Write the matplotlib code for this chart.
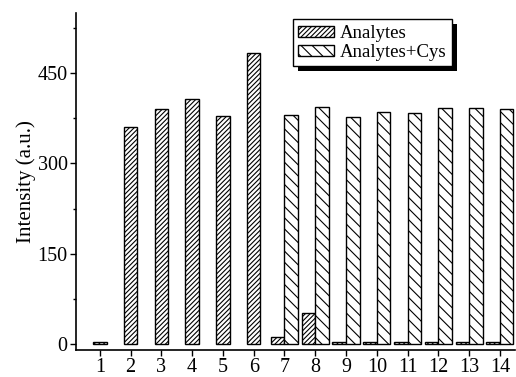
import numpy as np
import matplotlib
matplotlib.use("Agg")
from matplotlib import pyplot as plt
from matplotlib.ticker import MultipleLocator
from matplotlib.patches import Rectangle

plt.rcParams['font.family'] = ['Liberation Serif', 'DejaVu Serif']
plt.rcParams['hatch.linewidth'] = 0.8

# data
samples = list(range(1, 15))
analytes = [3, 360, 391, 407, 378, 483, 11, 52, 3, 3, 3, 3, 4, 3]
cys_samples = list(range(7, 15))
analytes_cys = [381, 394, 377, 385, 384, 392, 392, 391]

fig = plt.figure(figsize=(5.16, 3.77), dpi=100)
ax = fig.add_axes([0.147, 0.0716, 0.851, 0.894])

w = 0.44
x = np.array(samples, dtype=float)
# samples with a Cys partner sit left of the tick, the rest are centred
shift = np.array([-w / 2 if s in cys_samples else 0.0 for s in samples])
ax.bar(x + shift, analytes, w, facecolor='white', edgecolor='black',
       linewidth=1.0, hatch='///////', label='Analytes')
ax.bar(np.array(cys_samples) + w / 2, analytes_cys, w, facecolor='white',
       edgecolor='black', linewidth=1.0, hatch='\\\\\\', label='Analytes+Cys')

ax.set_xlim(0.22, 14.49)
ax.set_ylim(-10, 550)
ax.set_xticks(samples)
ax.yaxis.set_major_locator(MultipleLocator(150))
ax.yaxis.set_minor_locator(MultipleLocator(75))
ax.spines['top'].set_visible(False)
ax.spines['right'].set_visible(False)
ax.spines['left'].set_linewidth(1.2)
ax.spines['bottom'].set_linewidth(1.2)
ax.tick_params(axis='both', which='major', direction='out', length=4,
               width=1.0, labelsize=14.5, pad=2)
ax.tick_params(axis='y', which='minor', direction='out', length=2.5, width=1.0)
ax.tick_params(axis='x', which='minor', bottom=False)
ax.set_ylabel('Intensity (a.u.)', fontsize=15, labelpad=1)

leg = ax.legend(loc='upper left', bbox_to_anchor=(0.494, 0.981), fontsize=13.5,
                fancybox=False, edgecolor='black', framealpha=1,
                handlelength=1.9, handleheight=0.55, handletextpad=0.3,
                borderpad=0.3, labelspacing=0.1, borderaxespad=0)
leg.get_frame().set_linewidth(1.0)
leg.set_zorder(6)

# solid black drop shadow, offset a few pixels down and right
fig.canvas.draw()
bb = leg.get_frame().get_window_extent().transformed(ax.transAxes.inverted())
dx, dy = 5 / (0.851 * 516), 5 / (0.894 * 377)
ax.add_patch(Rectangle((bb.x0 + dx, bb.y0 - dy), bb.width, bb.height,
                       transform=ax.transAxes, facecolor='black',
                       edgecolor='none', zorder=5, clip_on=False))

fig.savefig('out.png', dpi=100)
